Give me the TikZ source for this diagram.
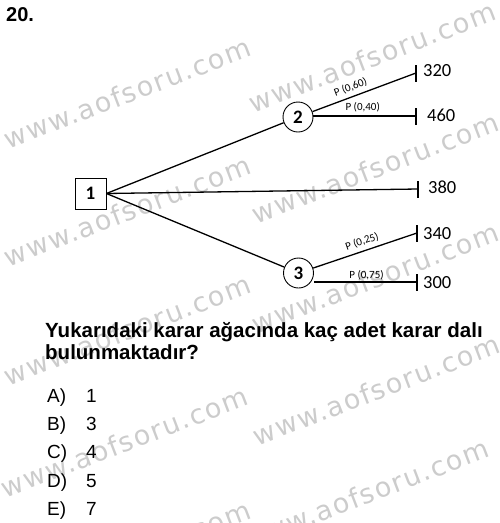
\documentclass[tikz,border=0pt]{standalone}
\usepackage{fontspec}
\setmainfont{Liberation Sans}
\newfontfamily\treefont{Carlito}
\newfontfamily\markfont[LetterSpace=6]{DejaVu Sans}
\tikzset{
  branch/.style={line width=1.3pt},
  decbox/.style={draw,line width=0.9pt,minimum size=31pt,inner sep=0pt,font=\treefont\bfseries\fontsize{19}{19}\selectfont},
  chance/.style={draw,circle,line width=0.9pt,minimum size=30pt,inner sep=0pt,font=\treefont\bfseries\fontsize{19}{19}\selectfont},
  payoff/.style={anchor=west,inner sep=0pt,font=\treefont\fontsize{18.5}{18.5}\selectfont},
  prob/.style={inner sep=1pt,font=\treefont\fontsize{11}{11}\selectfont},
  wmark/.style={rotate=21,text=black!20,inner sep=0pt,font=\markfont\fontsize{27}{27}\selectfont},
  txt/.style={anchor=base west,inner sep=0pt,font=\fontsize{19}{19}\selectfont}
}
\begin{document}
\begin{tikzpicture}[x=1pt,y=-1pt]
  \useasboundingbox (0,0) rectangle (500,523);
  % watermark
  \foreach \x/\y in {127/93,127/211,127/330,124/442,127/556,372/57,375/168,375/278,376/390,365/494}
    \node[wmark,at={(\x,\y)}] (wm-\x-\y) {www.aofsoru.com};

  % tree
  %nodes
  \node[decbox,at={(90.5,193.5)}] (d1) {1};
  \node[chance,at={(298,117)}] (c2) {2};
  \node[chance,at={(298.5,273)}] (c3) {3};
  %ends
  \coordinate (e320) at (416,73);
  \coordinate (e460) at (416,116);
  \coordinate (e380) at (418,189);
  \coordinate (e340) at (417,233);
  \coordinate (e300) at (417,282);
  %edges
  \draw[branch] (d1.east) -- (c2);
  \draw[branch] (d1.east) -- (e380);
  \draw[branch] (d1.east) -- (c3);
  \draw[branch] (c2) -- node[prob,above=3pt,sloped,pos=0.4] (p60) {P (0,60)} (e320);
  \draw[branch] (c2.east |- e460) -- node[prob,above=2pt,pos=0.48] (p40) {P (0,40)} (e460);
  \draw[branch] (c3) -- node[prob,above=3pt,sloped,pos=0.5] (p25) {P (0,25)} (e340);
  \draw[branch] (c3.east |- e300) -- node[prob,above=0pt,pos=0.51] (p75) {P (0,75)} (e300);
  \foreach \e in {e320,e460,e380,e340,e300}
    \draw[branch] ([yshift=-8.5pt]\e) -- ([yshift=8.5pt]\e);
  %labels
  \node[payoff,at={(423,71)}] (v320) {320};
  \node[payoff,at={(427,115)}] (v460) {460};
  \node[payoff,at={(428,187)}] (v380) {380};
  \node[payoff,at={(423,234)}] (v340) {340};
  \node[payoff,at={(423,283)}] (v300) {300};

  % question
  \node[txt,font=\bfseries\fontsize{20}{20}\selectfont,at={(6,21)}] (qno) {20.};
  \node[txt,font=\bfseries\fontsize{20.5}{20.5}\selectfont,at={(45,337)}] (q1) {Yukarıdaki karar ağacında kaç adet karar dalı};
  \node[txt,font=\bfseries\fontsize{20.5}{20.5}\selectfont,at={(45,359)}] (q2) {bulunmaktadır?};
  \foreach \l/\v/\b in {A/1/402,B/3/430,C/4/458,D/5/487,E/7/515}{
    \node[txt,at={(47,\b)}] (opt\l) {\l)};
    \node[txt,at={(86,\b)}] (val\l) {\v};
  }
\end{tikzpicture}
\end{document}
